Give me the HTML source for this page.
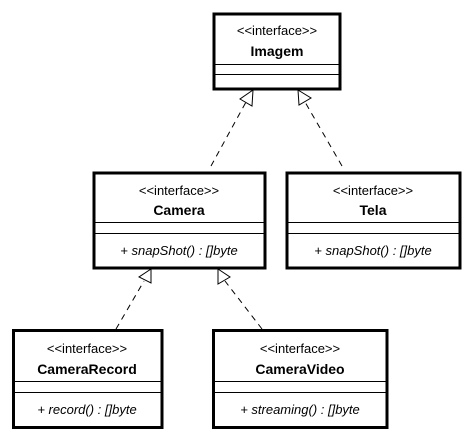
<html><head><style>
body{margin:0;background:#fff;width:473px;height:440px;overflow:hidden}
</style></head><body>
<svg width="473" height="440" xmlns="http://www.w3.org/2000/svg" font-family="Liberation Sans, sans-serif">
<g fill="#fff" stroke="#000" stroke-width="3">
<rect x="214" y="14" width="126" height="75"/>
<rect x="94" y="173" width="171" height="95"/>
<rect x="287" y="173" width="173" height="95"/>
<rect x="13.5" y="330.5" width="148.5" height="97"/>
<rect x="213.5" y="330.5" width="173.5" height="97"/>
</g>
<g stroke="#000" stroke-width="1">
<line x1="214" y1="64.5" x2="340" y2="64.5"/><line x1="214" y1="74.5" x2="340" y2="74.5"/>
<line x1="94" y1="222.5" x2="265" y2="222.5"/><line x1="94" y1="233.5" x2="265" y2="233.5"/>
<line x1="287" y1="222.5" x2="460" y2="222.5"/><line x1="287" y1="233.5" x2="460" y2="233.5"/>
<line x1="13" y1="381.5" x2="162" y2="381.5"/><line x1="13" y1="392.5" x2="162" y2="392.5"/>
<line x1="213" y1="381.5" x2="387" y2="381.5"/><line x1="213" y1="392.5" x2="387" y2="392.5"/>
</g>
<g stroke="#000" stroke-width="1" stroke-dasharray="6,5" fill="none">
<line x1="211" y1="166" x2="246" y2="102"/>
<line x1="342" y1="166" x2="305" y2="102"/>
<line x1="116" y1="329" x2="144" y2="281"/>
<line x1="262" y1="329" x2="225" y2="281"/>
</g>
<g fill="#fff" stroke="#000" stroke-width="1">
<polygon points="253,90 240,99 252,106"/>
<polygon points="298,90 299,105 311,98"/>
<polygon points="151,269 139,277 151,283"/>
<polygon points="218,269 218,284 230,277"/>
</g>
<g font-size="13" text-anchor="middle">
<text x="277" y="35">&lt;&lt;interface&gt;&gt;</text>
<text x="179" y="195">&lt;&lt;interface&gt;&gt;</text>
<text x="373" y="195">&lt;&lt;interface&gt;&gt;</text>
<text x="87" y="353">&lt;&lt;interface&gt;&gt;</text>
<text x="300" y="353">&lt;&lt;interface&gt;&gt;</text>
</g>
<g font-size="14" font-weight="bold" text-anchor="middle">
<text x="277" y="56">Imagem</text>
<text x="179" y="215">Camera</text>
<text x="373" y="215">Tela</text>
<text x="87" y="374">CameraRecord</text>
<text x="300" y="374">CameraVideo</text>
</g>
<g font-size="13" font-style="italic" text-anchor="middle">
<text x="179" y="255">+ snapShot() : []byte</text>
<text x="373" y="255">+ snapShot() : []byte</text>
<text x="87" y="414">+ record() : []byte</text>
<text x="300" y="414">+ streaming() : []byte</text>
</g>
</svg>
</body></html>
